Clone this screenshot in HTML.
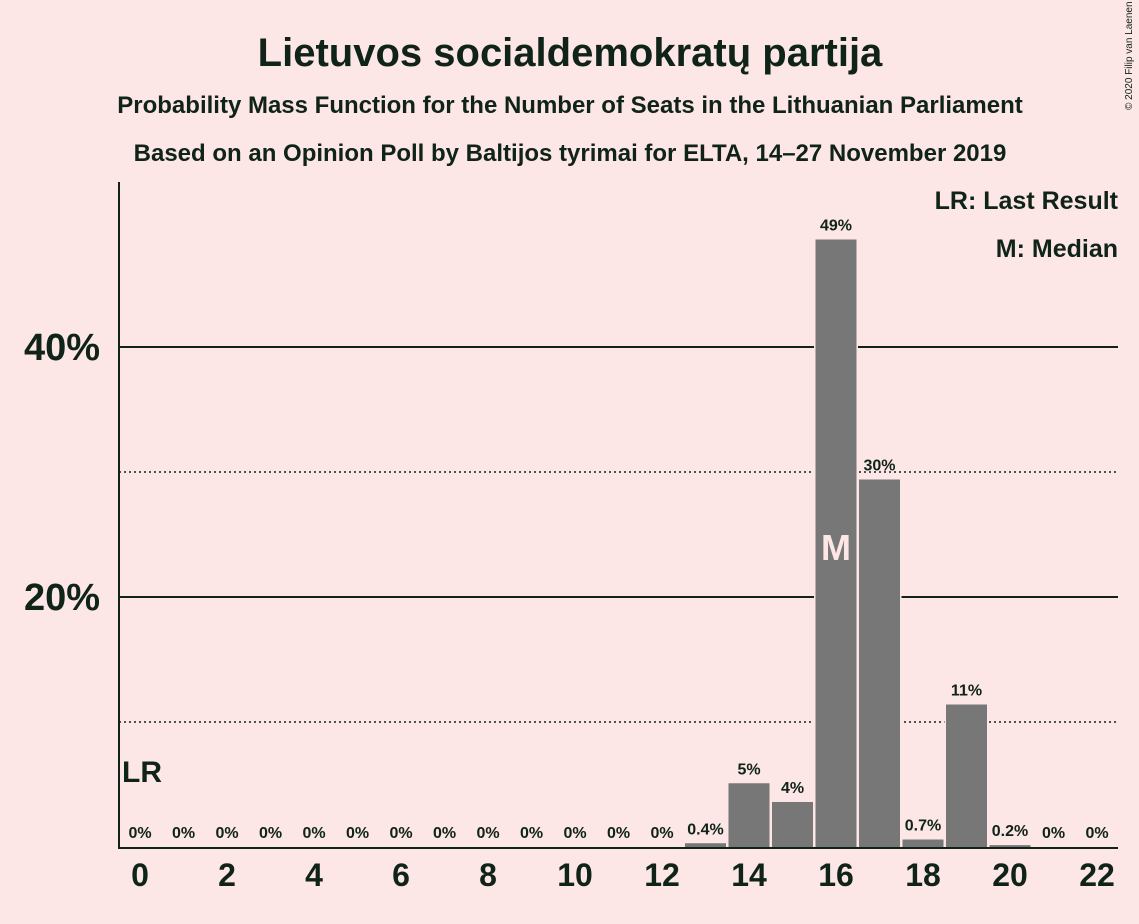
<!DOCTYPE html>
<html><head><meta charset="utf-8"><style>
body{margin:0;background:#fde6e6;}
svg{display:block;font-family:"Liberation Sans",sans-serif;}
</style></head><body>
<svg id="chart" width="1139" height="924" xmlns="http://www.w3.org/2000/svg">
<rect width="1139" height="924" fill="#fde6e6"/>
<text x="570" y="66" text-anchor="middle" font-size="40" font-weight="bold" fill="#0f2318">Lietuvos socialdemokratų partija</text>
<text x="570" y="113" text-anchor="middle" font-size="24" font-weight="bold" fill="#0f2318">Probability Mass Function for the Number of Seats in the Lithuanian Parliament</text>
<text x="570" y="161" text-anchor="middle" font-size="24" font-weight="bold" fill="#0f2318">Based on an Opinion Poll by Baltijos tyrimai for ELTA, 14–27 November 2019</text>
<text x="1132" y="110" font-size="10" fill="#0f2318" transform="rotate(-90 1132 110)">© 2020 Filip van Laenen</text>
<text x="1118" y="209" text-anchor="end" font-size="25" font-weight="bold" fill="#0f2318">LR: Last Result</text>
<text x="1118" y="257" text-anchor="end" font-size="25" font-weight="bold" fill="#0f2318">M: Median</text>
<g id="grid"></g><g id="bars"></g><g id="labels"></g>
<line x1="119" y1="182" x2="119" y2="848" stroke="#0f2318" stroke-width="2"/>
<line x1="118" y1="848" x2="1118" y2="848" stroke="#0f2318" stroke-width="2"/>
<text x="122" y="782" font-size="30" font-weight="bold" fill="#0f2318">LR</text>
</svg>
<script>
const seats=[0,1,2,3,4,5,6,7,8,9,10,11,12,13,14,15,16,17,18,19,20,21,22];
const probs=[0,0,0,0,0,0,0,0,0,0,0,0,0,0.3,5.1,3.6,48.6,29.4,0.6,11.4,0.15,0,0];
const valueLabels=["0%","0%","0%","0%","0%","0%","0%","0%","0%","0%","0%","0%","0%","0.4%","5%","4%","49%","30%","0.7%","11%","0.2%","0%","0%"];
const yTicks=[20,40];
const yDotted=[10,30];
const xTickLabels=[0,2,4,6,8,10,12,14,16,18,20,22];
const medianSeat=16;
const NS="http://www.w3.org/2000/svg";
const xS=s=>140+s*43.5;
const yS=v=>847-v*12.5;
function mk(tag,attrs,parent){const e=document.createElementNS(NS,tag);for(const k in attrs)e.setAttribute(k,attrs[k]);parent.appendChild(e);return e;}
const grid=document.getElementById('grid'),bars=document.getElementById('bars'),labels=document.getElementById('labels');
yDotted.forEach(v=>{const l=mk('line',{x1:119,x2:1118,y1:yS(v),y2:yS(v),stroke:'#0f2318','stroke-width':1.5,'stroke-dasharray':'2,3'},grid);

});
yTicks.forEach(v=>{const l=mk('line',{x1:119,x2:1118,y1:yS(v),y2:yS(v),stroke:'#0f2318','stroke-width':2},grid);


const t=mk('text',{x:100,y:yS(v)+13,'text-anchor':'end','font-size':38,'font-weight':'bold',fill:'#0f2318'},labels);t.textContent=v+'%';

});
seats.forEach((s,i)=>{const v=probs[i];
if(v>0){const r=mk('rect',{x:xS(s)-20.5,y:yS(v),width:41,height:847-yS(v),fill:'#777777',stroke:'#fde6e6','stroke-width':3,'paint-order':'stroke'},bars);

}
const t=mk('text',{x:xS(s),y:yS(v)-9,'text-anchor':'middle','font-size':16,'font-weight':'bold',fill:'#0f2318'},labels);t.textContent=valueLabels[i];


if(s===medianSeat){const m=mk('text',{x:xS(s),y:560,'text-anchor':'middle','font-size':36,'font-weight':'bold',fill:'#fde6e6'},labels);m.textContent='M';

}});
xTickLabels.forEach(s=>{const t=mk('text',{x:xS(s),y:886,'text-anchor':'middle','font-size':32,'font-weight':'bold',fill:'#0f2318'},labels);t.textContent=s;

});
</script>
</body></html>
